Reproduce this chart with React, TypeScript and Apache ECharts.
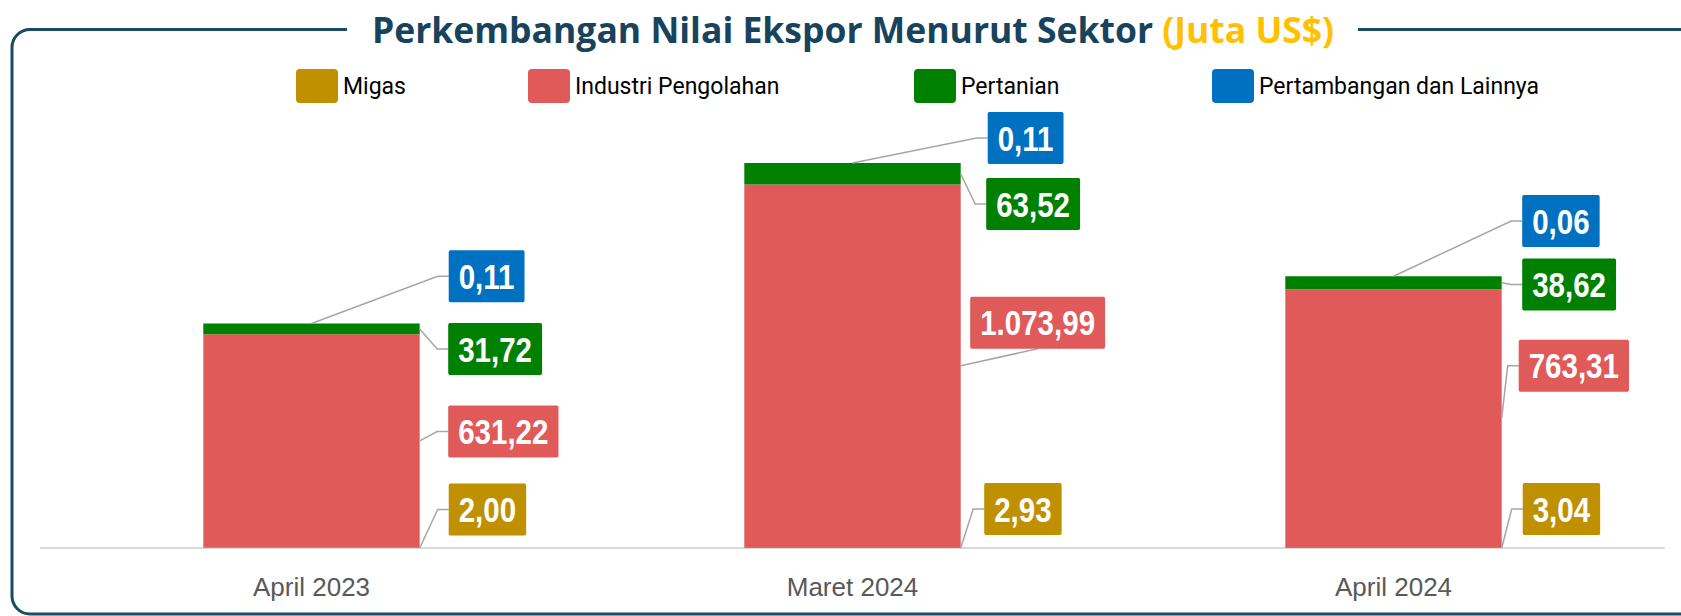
import React, { useEffect, useRef } from "react";
import * as echarts from "echarts";

const categories = ["April 2023", "Maret 2024", "April 2024"];
const seriesNames = ["Migas", "Industri Pengolahan", "Pertanian", "Pertambangan dan Lainnya"];
const migas = [2.0, 2.93, 3.04];
const industri = [631.22, 1073.99, 763.31];
const pertanian = [31.72, 63.52, 38.62];
const pertambangan = [0.11, 0.11, 0.06];

const COLORS = ["#BF9000", "#E05A5A", "#008000", "#0070C0"];
const TITLE_COLOR = "#17435C";
const BORDER_COLOR = "#1B4A63";
const LEADER = "#A6A6A6";
const SANS = "'Liberation Sans', Arial, sans-serif";
const NARROW_SCALE = 0.82;
const BAR_RATIO = 0.4;

// label nudges (px), per series [migas, industri, pertanian, pertambangan] x category
const labelDx = [
  [29, 23.5, 21],
  [28.5, 9.5, 17],
  [28.5, 25.5, 20.5],
  [29, 27, 20.5],
];
const labelDy = [
  [-38.5, -39, -39],
  [-9.3, -43, -52.3],
  [25.5, 41, 8.2],
  [-47.2, -25, -55.3],
];
const legendLeft = [296, 528, 914, 1212];

const fmt = (v: number) => {
  const [i, d] = v.toFixed(2).split(".");
  return i.replace(/\B(?=(\d{3})+(?!\d))/g, ".") + "," + d;
};

let measureCtx: CanvasRenderingContext2D | null = null;
const measure = (t: string) => {
  if (!measureCtx) measureCtx = document.createElement("canvas").getContext("2d");
  if (!measureCtx) return t.length * 20;
  measureCtx.font = `bold 36px ${SANS}`;
  return measureCtx.measureText(t).width;
};

export default function App() {
  const ref = useRef<HTMLDivElement>(null);
  useEffect(() => {
    document.body.style.margin = "0";
    const chart = echarts.init(ref.current!, null, { renderer: "svg" });
    const allSeries = [migas, industri, pertanian, pertambangan];
    const padX = 10 / NARROW_SCALE;

    const renderItem = (params: any, api: any) => {
      const i = api.value(0);
      const base = api.coord([i, 0]);
      const cx = base[0];
      const y0 = base[1];
      const band = api.size([1, 0])[0];
      const right = cx + (band * BAR_RATIO) / 2;
      const c1 = migas[i];
      const c2 = c1 + industri[i];
      const c3 = c2 + pertanian[i];
      const c4 = c3 + pertambangan[i];
      const yAt = (v: number) => api.coord([i, v])[1];
      const top = yAt(c4);
      const anchors = [
        [right, y0],
        [right, (yAt(c1) + yAt(c2)) / 2],
        [right, (yAt(c2) + yAt(c3)) / 2],
        [cx, top],
      ];
      const refY = [y0, anchors[1][1], top, top];
      const lines: any[] = [];
      const boxes: any[] = [];
      for (let s = 0; s < 4; s++) {
        const text = fmt(allSeries[s][i]);
        const left = right + labelDx[s][i];
        const cy = refY[s] + labelDy[s][i];
        const w = (measure(text) + 2 * padX) * NARROW_SCALE;
        const a = anchors[s];
        let pts;
        if (left - a[0] < 14) {
          pts = [a, [left + w / 2, cy + 26]];
        } else {
          pts = [a, [left - 11, cy], [left, cy]];
        }
        lines.push({
          type: "polyline",
          shape: { points: pts },
          style: { stroke: LEADER, lineWidth: 1.5, fill: "none" },
        });
        boxes.push({
          type: "text",
          x: left,
          y: cy,
          scaleX: NARROW_SCALE,
          style: {
            text,
            fill: "#fff",
            fontSize: 36,
            fontWeight: "bold",
            fontFamily: SANS,
            lineHeight: 36,
            align: "left",
            verticalAlign: "middle",
            backgroundColor: COLORS[s],
            padding: [8, padX, 8, padX],
            borderRadius: 2,
          },
        });
      }
      return { type: "group", children: [...lines, ...boxes] };
    };

    const option: any = {
      animation: false,
      backgroundColor: "#fff",
      graphic: [
        {
          type: "rect",
          z: 1,
          shape: { x: 12, y: 29.5, width: 1730, height: 584.5, r: 18 },
          style: { fill: "none", stroke: BORDER_COLOR, lineWidth: 3 },
        },
        {
          type: "rect",
          z: 2,
          shape: { x: 347, y: 12, width: 1011, height: 36 },
          style: { fill: "#fff" },
        },
        {
          type: "text",
          z: 3,
          x: 853,
          y: 29,
          style: {
            text: "{a|Perkembangan Nilai Ekspor Menurut Sektor }{b|(Juta US$)}",
            align: "center",
            verticalAlign: "middle",
            rich: {
              a: { fontSize: 35.5, fontWeight: "bold", fontFamily: "'Open Sans', sans-serif", fill: TITLE_COLOR },
              b: { fontSize: 35.5, fontWeight: "bold", fontFamily: "'Open Sans', sans-serif", fill: "#FFC000" },
            },
          },
        },
      ],
      legend: seriesNames.map((n, k) => ({
        data: [n],
        left: legendLeft[k],
        top: 69,
        padding: 0,
        itemWidth: 42,
        itemHeight: 34,
        icon: "path://M4,0 H38 Q42,0 42,4 V30 Q42,34 38,34 H4 Q0,34 0,30 V4 Q0,0 4,0 Z",
        selectedMode: false,
        textStyle: { fontSize: 23, fontFamily: "Roboto, sans-serif", color: "#000" },
      })),
      grid: { left: 41, right: 17, top: 143, bottom: 68 },
      xAxis: {
        type: "category",
        data: categories,
        axisLine: { lineStyle: { color: "#D9D9D9", width: 2 } },
        axisTick: { show: false },
        axisLabel: { fontSize: 26, color: "#595959", fontFamily: SANS, margin: 26 },
      },
      yAxis: { type: "value", min: 0, max: 1200, show: false, splitLine: { show: false } },
      series: [
        ...seriesNames.map((n, k) => ({
          name: n,
          type: "bar",
          stack: "total",
          barWidth: BAR_RATIO * 100 + "%",
          itemStyle: { color: COLORS[k] },
          data: allSeries[k],
        })),
        {
          type: "custom",
          coordinateSystem: "cartesian2d",
          clip: false,
          z: 10,
          silent: true,
          encode: { x: 0, y: 1 },
          data: categories.map((_, i) => [i, 0]),
          renderItem,
        },
      ],
    };
    chart.setOption(option);
    return () => chart.dispose();
  }, []);
  return <div ref={ref} style={{ width: 1681, height: 616 }} />;
}
